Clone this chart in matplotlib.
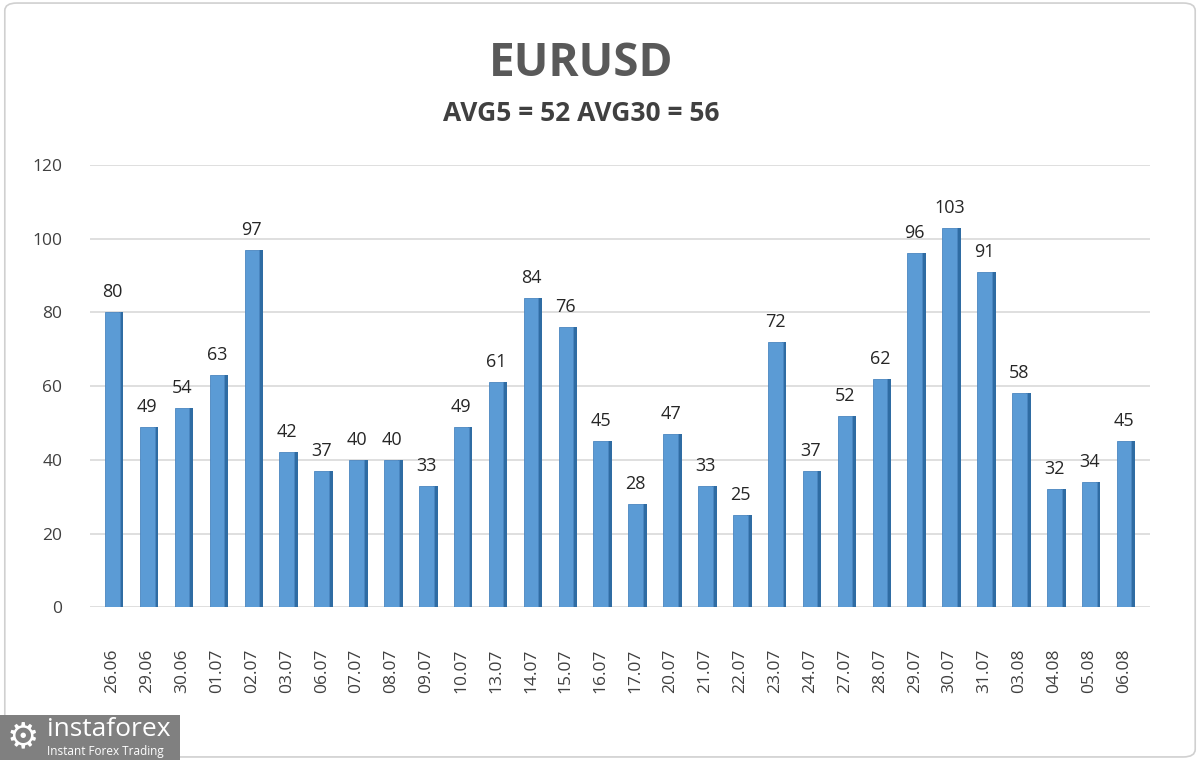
import numpy as np
import matplotlib.pyplot as plt
from matplotlib.patches import Rectangle, FancyBboxPatch

# data
dates = ['26.06', '29.06', '30.06', '01.07', '02.07', '03.07', '06.07', '07.07',
         '08.07', '09.07', '10.07', '13.07', '14.07', '15.07', '16.07', '17.07',
         '20.07', '21.07', '22.07', '23.07', '24.07', '27.07', '28.07', '29.07',
         '30.07', '31.07', '03.08', '04.08', '05.08', '06.08']
values = [80, 49, 54, 63, 97, 42, 37, 40, 40, 33, 49, 61, 84, 76, 45, 28,
          47, 33, 25, 72, 37, 52, 62, 96, 103, 91, 58, 32, 34, 45]
yticks = [0, 20, 40, 60, 80, 100, 120]

plt.rcParams['font.family'] = ['Open Sans', 'DejaVu Sans']

fig = plt.figure(figsize=(12, 7.6), dpi=100)
fig.patch.set_facecolor('white')

# outer frame
fig.patches.append(FancyBboxPatch((0.004, 0.004), 0.992, 0.992,
                                  boxstyle='round,pad=0,rounding_size=0.01',
                                  transform=fig.transFigure, fill=False,
                                  edgecolor='#d0d0d0', linewidth=1.2))

ax = fig.add_axes([0.075, 0.201, 0.883, 0.582])
x = np.arange(len(values))
n = len(values)
ax.set_xlim(-0.64, n - 1 + 0.73)
ax.set_ylim(0, 120)

for t in yticks:
    ax.axhline(t, color='#d9d9d9', linewidth=1.2, zorder=0)

# bars with a darker side face for the 3d look
w = 0.42
ax.bar(x + w / 2 + 0.05, values, width=0.12, color='#2f6ca3', zorder=2)
ax.bar(x, values, width=w, color='#5b9bd5', edgecolor='#4a86c0',
       linewidth=0.6, zorder=3)

for xi, v in zip(x, values):
    ax.text(xi, v + 3, str(v), ha='center', va='bottom', fontsize=13,
            color='#262626')

ax.set_xticks(x)
ax.set_xticklabels(dates, rotation=90, fontsize=12.5, color='#404040')
ax.set_yticks(yticks)
ax.set_yticklabels([str(t) for t in yticks], fontsize=12.5, color='#404040')
ax.tick_params(length=0)
ax.tick_params(axis='y', pad=20)
ax.tick_params(axis='x', pad=30)
for s in ax.spines.values():
    s.set_visible(False)

fig.text(0.484, 0.917, 'EURUSD', ha='center', va='center', fontsize=33,
         fontweight='bold', color='#595959')
fig.text(0.484, 0.851, 'AVG5 = 52 AVG30 = 56', ha='center', va='center',
         fontsize=19, fontweight='bold', color='#404040')

# logo box
fig.patches.append(Rectangle((0, 0), 0.15, 0.059, transform=fig.transFigure,
                             facecolor='#808080', edgecolor='none'))
fig.text(0.039, 0.040, 'instaforex', fontsize=19, color='white',
         ha='left', va='center')
fig.text(0.039, 0.011, 'Instant Forex Trading', fontsize=8.5, color='white',
         ha='left', va='center')
fig.text(0.019, 0.030, '\u2699', fontsize=26, color='white',
         ha='center', va='center', family='DejaVu Sans')

fig.savefig('out.png', dpi=100, facecolor='white')
